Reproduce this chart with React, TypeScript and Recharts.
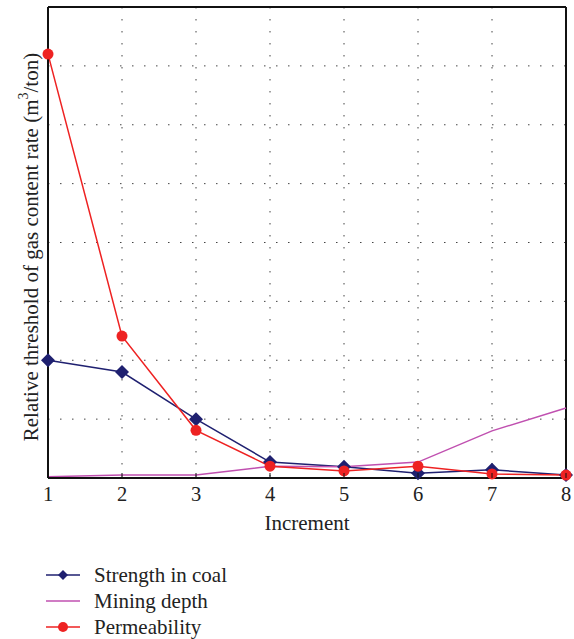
import React from 'react';
import { LineChart, Line, XAxis, YAxis, CartesianGrid, Legend, ReferenceLine } from 'recharts';

const increments = [1, 2, 3, 4, 5, 6, 7, 8];
const strengthInCoal = [2.0, 1.8, 1.0, 0.27, 0.19, 0.08, 0.14, 0.05];
const miningDepth = [0.02, 0.05, 0.05, 0.2, 0.19, 0.27, 0.8, 1.19];
const permeability = [7.2, 2.41, 0.81, 0.2, 0.12, 0.2, 0.07, 0.05];
const yTicks = [0, 1, 2, 3, 4, 5, 6, 7, 8];

const FONT = '"Liberation Serif", "DejaVu Serif", serif';

const data = increments.map((inc, i) => ({
  inc,
  strength: strengthInCoal[i],
  depth: miningDepth[i],
  perm: permeability[i],
}));

const Diamond = (props: any) => {
  const { cx, cy, fill, r = 6 } = props;
  if (cx == null || cy == null) return null;
  return (
    <path
      d={`M${cx},${cy - r} L${cx + r},${cy} L${cx},${cy + r} L${cx - r},${cy} Z`}
      fill={fill}
    />
  );
};

// x tick: small inward tick mark plus the number below the axis
const XTick = (props: any) => {
  const { x, y, payload } = props;
  return (
    <g>
      <line x1={x} y1={y - 10} x2={x} y2={y - 15} stroke="#111" strokeWidth={1} />
      <text x={x} y={y + 13} textAnchor="middle" fontFamily={FONT} fontSize={20.5} fill="#222">
        {payload.value}
      </text>
    </g>
  );
};

const YLabel = (props: any) => {
  const { viewBox } = props;
  const cy = viewBox.y + viewBox.height / 2 + 4.5;
  const cx = 31;
  return (
    <text
      x={cx}
      y={cy}
      transform={`rotate(-90, ${cx}, ${cy})`}
      textAnchor="middle"
      dominantBaseline="central"
      fontFamily={FONT}
      fontSize={21}
      fill="#222"
    >
      Relative threshold of gas content rate (m
      <tspan dy={-8} fontSize={14}>3</tspan>
      <tspan dy={8}>/ton)</tspan>
    </text>
  );
};

const LegendContent = () => {
  const items = [
    { name: 'Strength in coal', color: '#1f2070', mark: 'diamond' },
    { name: 'Mining depth', color: '#c050b0', mark: 'none' },
    { name: 'Permeability', color: '#ee2222', mark: 'circle' },
  ];
  return (
    <div style={{ fontFamily: FONT, fontSize: 21, color: '#222' }}>
      {items.map((it) => (
        <div key={it.name} style={{ display: 'flex', alignItems: 'center', height: 26 }}>
          <svg width={36} height={14} style={{ marginRight: 12 }}>
            <line x1={0} y1={7} x2={34} y2={7} stroke={it.color} strokeWidth={1.5} />
            {it.mark === 'diamond' && <path d="M17,2 L22,7 L17,12 L12,7 Z" fill={it.color} />}
            {it.mark === 'circle' && <circle cx={17} cy={7} r={5} fill={it.color} />}
          </svg>
          <span>{it.name}</span>
        </div>
      ))}
    </div>
  );
};

export default function App() {
  return (
    <div style={{ position: 'absolute', left: 0, top: 0, background: '#fff' }}>
      <LineChart
        width={574}
        height={639}
        data={data}
        margin={{ top: 7, right: 8, left: 8, bottom: 101 }}
      >
        <CartesianGrid
          stroke="#444"
          strokeDasharray="1.5 10.5"
          horizontalValues={[1, 2, 3, 4, 5, 6, 7]}
          verticalValues={[2, 3, 4, 5, 6, 7]}
        />
        <XAxis
          dataKey="inc"
          type="number"
          domain={[1, 8]}
          ticks={increments}
          height={60}
          tickLine={false}
          axisLine={{ stroke: '#111', strokeWidth: 2 }}
          tick={<XTick />}
          tickMargin={4}
          label={{
            value: 'Increment',
            position: 'insideBottom',
            offset: 8,
            style: { fontFamily: FONT, fontSize: 21, fill: '#222' },
          }}
        />
        <YAxis
          type="number"
          domain={[0, 8]}
          ticks={yTicks}
          width={40}
          tick={() => <g />}
          tickLine={false}
          axisLine={{ stroke: '#111', strokeWidth: 2 }}
          label={<YLabel />}
        />
        <ReferenceLine y={8} stroke="#111" strokeWidth={2} ifOverflow="extendDomain" />
        <ReferenceLine x={8} stroke="#111" strokeWidth={2} ifOverflow="extendDomain" />
        <Line
          dataKey="strength"
          name="Strength in coal"
          stroke="#1f2070"
          strokeWidth={1.5}
          dot={<Diamond fill="#1f2070" r={7} />}
          isAnimationActive={false}
        />
        <Line
          dataKey="depth"
          name="Mining depth"
          stroke="#c050b0"
          strokeWidth={1.5}
          dot={false}
          isAnimationActive={false}
        />
        <Line
          dataKey="perm"
          name="Permeability"
          stroke="#ee2222"
          strokeWidth={1.5}
          dot={{ r: 5.5, fill: '#ee2222', stroke: '#ee2222', strokeWidth: 0 }}
          isAnimationActive={false}
        />
        <Legend
          layout="vertical"
          align="center"
          verticalAlign="middle"
          content={<LegendContent />}
          wrapperStyle={{ position: 'absolute', left: 46, top: 562, width: 300 }}
        />
      </LineChart>
    </div>
  );
}
